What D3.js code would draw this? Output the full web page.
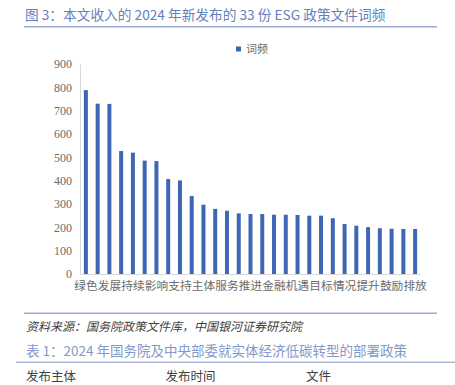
<!DOCTYPE html>
<html>
<head>
<meta charset="utf-8">
<script src="https://cdn.jsdelivr.net/npm/d3@7"></script>
<style>
  body { margin: 0; background: #fff; }
  svg { display: block; }
</style>
</head>
<body>
<div id="chart"></div>
<script>
// word frequencies, 29 bars; Excel only labels every other category
const freq = [788, 730, 729, 527, 520, 486, 484, 407, 401, 334, 297, 279, 271, 260, 257,
              257, 254, 254, 253, 250, 250, 239, 214, 207, 201, 196, 194, 193, 193];
const shownWords = ['绿色', '发展', '持续', '影响', '支持', '主体', '服务', '推进',
                    '金融', '机遇', '目标', '情况', '提升', '鼓励', '排放'];
const yTicks = [0, 100, 200, 300, 400, 500, 600, 700, 800, 900];
const seriesName = '词频';

const width = 455;
const height = 385;
const barColor = '#3f66b5';
const cjk = '"Noto Sans CJK SC", "Noto Sans", sans-serif';
const num = '"Liberation Serif", "DejaVu Serif", serif';

let svg = d3.select('#chart').append('svg')
            .attr('width', width)
            .attr('height', height);

// header title + rule
svg.append('text')
   .text('图 3：本文收入的 2024 年新发布的 33 份 ESG 政策文件词频')
   .attr('x', 25).attr('y', 20)
   .attr('font-family', cjk).attr('font-size', 13.7)
   .attr('fill', '#6580bb');
svg.append('line')
   .attr('x1', 24).attr('x2', 437).attr('y1', 26.7).attr('y2', 26.7)
   .attr('stroke', '#9aaad3').attr('stroke-width', 1.5);

// scales
let x = d3.scaleBand()
          .domain(d3.range(freq.length))
          .range([80, 421])
          .paddingInner(0.66)
          .paddingOuter(0.33);
let y = d3.scaleLinear().domain([0, 900]).range([274, 64]);

// y axis
let yAxis = svg.append('g')
               .attr('transform', 'translate(80,0)')
               .call(d3.axisLeft(y).tickValues(yTicks).tickSize(0).tickPadding(8));
yAxis.select('.domain').attr('stroke', '#d9d9d9');
yAxis.selectAll('text')
     .attr('font-family', num).attr('font-size', 12).attr('fill', '#6b6b6b');

// bars
svg.selectAll('rect.bar')
   .data(freq)
   .enter()
   .append('rect')
   .attr('class', 'bar')
   .attr('x', function(d, i){return x(i);})
   .attr('width', x.bandwidth())
   .attr('y', function(d){return y(d);})
   .attr('height', function(d){return y(0) - y(d);})
   .attr('fill', barColor);

// x axis
let xAxis = svg.append('g')
               .attr('transform', 'translate(0,274)')
               .call(d3.axisBottom(x)
                       .tickValues(d3.range(0, freq.length, 2))
                       .tickFormat(function(i){return shownWords[i / 2];})
                       .tickSize(0).tickPadding(8));
xAxis.select('.domain').attr('stroke', '#d9d9d9');
xAxis.selectAll('text')
     .attr('font-family', cjk).attr('font-size', 11.7).attr('fill', '#6b6b6b');

// legend
svg.append('rect')
   .attr('x', 236).attr('y', 46.5).attr('width', 5).attr('height', 5)
   .attr('fill', barColor);
svg.append('text')
   .text(seriesName)
   .attr('x', 246).attr('y', 53)
   .attr('font-family', cjk).attr('font-size', 11).attr('fill', '#6b6b6b');

// source + next table header
svg.append('line')
   .attr('x1', 24).attr('x2', 437).attr('y1', 313.3).attr('y2', 313.3)
   .attr('stroke', '#9aaad3').attr('stroke-width', 1.5);
svg.append('text')
   .text('资料来源：国务院政策文件库，中国银河证券研究院')
   .attr('x', 26).attr('y', 331)
   .attr('font-family', cjk).attr('font-size', 12)
   .attr('font-style', 'italic').attr('fill', '#404040');
svg.append('text')
   .text('表 1：2024 年国务院及中央部委就实体经济低碳转型的部署政策')
   .attr('x', 26).attr('y', 355.5)
   .attr('font-family', cjk).attr('font-size', 13.5)
   .attr('fill', '#8299cb');
svg.append('line')
   .attr('x1', 16).attr('x2', 455).attr('y1', 362.3).attr('y2', 362.3)
   .attr('stroke', '#a9b7d9').attr('stroke-width', 1.5);

let heads = [['发布主体', 26], ['发布时间', 165.5], ['文件', 306]];
svg.selectAll('text.head')
   .data(heads)
   .enter()
   .append('text')
   .attr('class', 'head')
   .text(function(d){return d[0];})
   .attr('x', function(d){return d[1];})
   .attr('y', 381)
   .attr('font-family', cjk).attr('font-size', 12.5).attr('fill', '#404040');
</script>
</body>
</html>
